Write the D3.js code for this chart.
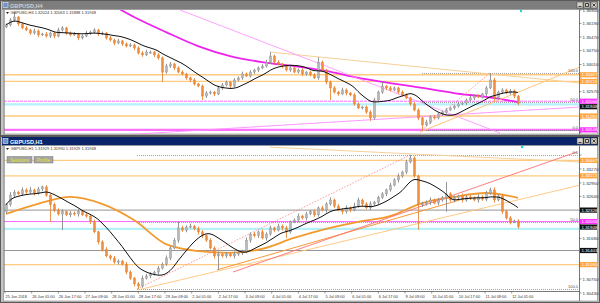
<!DOCTYPE html>
<html>
<head>
<meta charset="utf-8">
<script src="https://cdn.jsdelivr.net/npm/d3@7"></script>
<style>
  body { margin: 0; background: #808080; }
  svg { display: block; }
</style>
</head>
<body>
<div id="wrapper"></div>
<script>
// ---------- H4 window (top) ----------
const h4Open0 = 1.3600;
const h4Closes = [
  1.3611, 1.3637, 1.3653, 1.3616, 1.3595, 1.3584, 1.3568, 1.3579, 1.3558, 1.3563,
  1.3552, 1.3568, 1.3552, 1.3584, 1.3595, 1.3568, 1.3558, 1.3563, 1.3542, 1.3552,
  1.3568, 1.3573, 1.3584, 1.3563, 1.3568, 1.3542, 1.3531, 1.3515, 1.3526, 1.3510,
  1.3499, 1.3505, 1.3489, 1.3462, 1.3452, 1.3467, 1.3467, 1.3452, 1.3436, 1.3361,
  1.3393, 1.3404, 1.3383, 1.3361, 1.3351, 1.3330, 1.3319, 1.3298, 1.3287, 1.3234,
  1.3250, 1.3255, 1.3245, 1.3277, 1.3293, 1.3308, 1.3287, 1.3319, 1.3330, 1.3351,
  1.3340, 1.3361, 1.3372, 1.3383, 1.3393, 1.3414, 1.3446, 1.3414, 1.3404, 1.3393,
  1.3372, 1.3383, 1.3361, 1.3372, 1.3351, 1.3361, 1.3346, 1.3330, 1.3414, 1.3372,
  1.3308, 1.3277, 1.3255, 1.3245, 1.3266, 1.3250, 1.3240, 1.3192, 1.3171, 1.3176,
  1.3149, 1.3118, 1.3213, 1.3255, 1.3287, 1.3277, 1.3266, 1.3277, 1.3255, 1.3240,
  1.3224, 1.3192, 1.3160, 1.3118, 1.3081, 1.3096, 1.3123, 1.3118, 1.3139, 1.3149,
  1.3160, 1.3171, 1.3181, 1.3192, 1.3197, 1.3213, 1.3224, 1.3234, 1.3229, 1.3245,
  1.3277, 1.3319, 1.3224, 1.3255, 1.3266, 1.3250, 1.3261, 1.3234, 1.3195
];
// wick lengths in pips beyond the body
const h4WickUp = [
  8, 10, 26, 6, 8, 10, 6, 12, 8, 6,
  10, 8, 6, 12, 10, 6, 8, 10, 6, 8,
  12, 8, 10, 6, 8, 6, 10, 8, 12, 6,
  8, 10, 6, 8, 10, 12, 8, 6, 10, 8,
  12, 10, 6, 8, 10, 6, 8, 10, 6, 8,
  10, 8, 6, 12, 10, 8, 6, 10, 8, 12,
  8, 10, 6, 8, 10, 12, 21, 8, 10, 6,
  8, 10, 6, 8, 10, 6, 8, 10, 26, 8,
  6, 8, 10, 6, 12, 8, 6, 10, 8, 6,
  8, 10, 12, 8, 21, 6, 10, 8, 6, 10,
  8, 6, 10, 8, 6, 12, 8, 10, 6, 8,
  10, 6, 8, 10, 6, 8, 12, 8, 10, 6,
  10, 37, 12, 8, 10, 6, 10, 8, 6
];
const h4WickDown = [
  6, 8, 10, 12, 8, 6, 10, 8, 12, 6,
  8, 10, 12, 6, 8, 10, 8, 6, 12, 8,
  6, 10, 8, 12, 6, 10, 8, 12, 6, 10,
  8, 6, 12, 8, 10, 6, 8, 12, 10, 53,
  8, 10, 12, 6, 8, 10, 12, 8, 6, 21,
  10, 8, 12, 6, 10, 8, 12, 6, 8, 10,
  6, 8, 10, 12, 6, 8, 10, 8, 6, 12,
  8, 10, 6, 8, 12, 10, 8, 6, 10, 8,
  12, 64, 8, 10, 6, 12, 8, 10, 6, 8,
  10, 16, 8, 6, 10, 12, 8, 6, 10, 8,
  6, 10, 8, 12, 27, 8, 10, 6, 8, 10,
  8, 6, 10, 8, 6, 10, 8, 12, 6, 8,
  10, 6, 20, 8, 10, 6, 8, 12, 10
];
// magenta slow average, read every 8 candles starting at candle 24
const h4SlowMaStart = 24;
const h4SlowMa = [1.3748, 1.3653, 1.3573, 1.3499, 1.3446, 1.3414, 1.3393, 1.3367, 1.3330, 1.3303, 1.3277, 1.3250, 1.3229, 1.3202];
const h4Ticks = [1.36900, 1.36190, 1.35470, 1.34750, 1.34010, 1.33290, 1.32570, 1.31850, 1.31130, 1.30400];
const h4OrangeLevels = [1.33467, 1.33113, 1.31281];
const h4MagentaLevels = [1.32066];
const h4MagentaThick = [1.30548];
const h4GrayLevels = [];
const h4CyanLevels = [1.31900];
const h4Fib = [1.3356, 1.3205, 1.3054];
const h4FibStart = 104;
const h4TanLine = [[66, 1.3467], [143.5, 1.3303]];
const h4PinkFall = [[43.5, 1.3690], [123.5, 1.3038]];
const h4PinkRise = [[29.25, 1.3028], [143.5, 1.3176]];
const h4OrangeLine = [[103.5, 1.3043], [143.5, 1.3388]];
const h4RedLine = [];
const h4FibDiag = [[104, 1.3054], [121, 1.3356]];
const h4Quote = "GBPUSD,H4  1.32024 1.32063 1.31888 1.31948";

// ---------- H1 window (bottom) ----------
const h1Open0 = 1.3230;
const h1Closes = [
  1.3245, 1.3267, 1.3274, 1.3270, 1.3279, 1.3274, 1.3279, 1.3272, 1.3281, 1.3286,
  1.3267, 1.3245, 1.3233, 1.3224, 1.3229, 1.3222, 1.3226, 1.3224, 1.3229, 1.3222,
  1.3219, 1.3206, 1.3183, 1.3160, 1.3142, 1.3128, 1.3123, 1.3114, 1.3116, 1.3109,
  1.3091, 1.3077, 1.3064, 1.3059, 1.3077, 1.3082, 1.3087, 1.3091, 1.3100, 1.3109,
  1.3123, 1.3146, 1.3164, 1.3192, 1.3187, 1.3194, 1.3196, 1.3190, 1.3183, 1.3174,
  1.3164, 1.3146, 1.3128, 1.3132, 1.3128, 1.3132, 1.3128, 1.3132, 1.3135, 1.3137,
  1.3164, 1.3178, 1.3174, 1.3183, 1.3169, 1.3178, 1.3192, 1.3187, 1.3196, 1.3192,
  1.3183, 1.3206, 1.3210, 1.3219, 1.3215, 1.3224, 1.3229, 1.3222, 1.3238, 1.3233,
  1.3247, 1.3256, 1.3242, 1.3233, 1.3229, 1.3238, 1.3233, 1.3242, 1.3256, 1.3247,
  1.3238, 1.3247, 1.3251, 1.3261, 1.3270, 1.3279, 1.3290, 1.3302, 1.3311, 1.3320,
  1.3343, 1.3352, 1.3311, 1.3245, 1.3247, 1.3251, 1.3256, 1.3249, 1.3256, 1.3261,
  1.3270, 1.3256, 1.3261, 1.3265, 1.3256, 1.3263, 1.3261, 1.3256, 1.3263, 1.3258,
  1.3272, 1.3279, 1.3256, 1.3265, 1.3229, 1.3215, 1.3206, 1.3208, 1.3195
];
const h1WickUp = [
  4, 7, 5, 3, 6, 4, 7, 3, 5, 3,
  4, 3, 5, 4, 6, 3, 5, 4, 6, 3,
  4, 3, 5, 3, 4, 6, 3, 5, 4, 3,
  5, 4, 3, 4, 6, 5, 4, 3, 5, 4,
  6, 4, 5, 14, 5, 4, 6, 3, 5, 4,
  3, 5, 4, 6, 3, 5, 4, 6, 3, 5,
  6, 4, 5, 3, 6, 4, 5, 3, 6, 4,
  5, 3, 4, 6, 3, 5, 4, 6, 3, 5,
  4, 6, 3, 5, 4, 6, 3, 8, 5, 3,
  4, 6, 3, 5, 4, 3, 5, 4, 6, 3,
  5, 7, 4, 3, 5, 4, 6, 3, 5, 4,
  27, 4, 5, 3, 6, 4, 5, 3, 6, 4,
  5, 5, 6, 4, 3, 5, 4, 3, 4
];
const h1WickDown = [
  5, 4, 6, 3, 5, 4, 3, 6, 4, 5,
  4, 39, 5, 4, 37, 3, 5, 4, 6, 3,
  4, 5, 3, 6, 4, 3, 5, 4, 6, 3,
  5, 4, 6, 7, 4, 3, 5, 4, 6, 3,
  4, 5, 3, 6, 4, 5, 3, 4, 6, 5,
  4, 3, 6, 32, 4, 5, 3, 6, 4, 5,
  3, 6, 4, 5, 3, 6, 4, 5, 3, 6,
  14, 4, 3, 5, 4, 6, 3, 5, 4, 3,
  6, 4, 5, 3, 6, 4, 5, 3, 4, 6,
  3, 5, 4, 6, 3, 5, 4, 3, 6, 4,
  5, 3, 4, 57, 5, 4, 6, 3, 5, 4,
  32, 4, 5, 3, 6, 4, 5, 3, 6, 4,
  5, 4, 6, 3, 5, 4, 6, 3, 5
];
// orange slow average, read every 8 candles from candle 0
const h1SlowMaStart = 0;
const h1SlowMa = [1.3224, 1.3247, 1.3263, 1.3247, 1.3210, 1.3155, 1.3139, 1.3135, 1.3144, 1.3169, 1.3190, 1.3206, 1.3219, 1.3249, 1.3263, 1.3272, 1.3261];
const h1Ticks = [1.33590, 1.33270, 1.32950, 1.32640, 1.32320, 1.32000, 1.31680, 1.31370, 1.31050, 1.30750, 1.30430];
const h1OrangeLevels = [1.33467, 1.33113, 1.31080];
const h1MagentaLevels = [1.32066];
const h1MagentaThick = [];
const h1GrayLevels = [1.32328, 1.31403];
const h1CyanLevels = [1.31900];
const h1Fib = [1.3052, 1.32055, 1.3359];
const h1FibStart = 32.75;
const h1TanLine = [[66, 1.3377], [143.5, 1.3343]];
const h1PinkFall = [];
const h1PinkRise = [[33, 1.3050], [143.5, 1.3290]];
const h1OrangeLine = [[52.75, 1.3096], [113.5, 1.3256]];
const h1RedLine = [[56.75, 1.3091], [142.75, 1.3366]];
const h1FibDiag = [[32.75, 1.3052], [101, 1.3359]];
const h1Quote = "GBPUSD,H1  1.31929 1.31990 1.31929 1.31948";
const timeLabels = ["25 Jun 2018", "26 Jun 01:00", "26 Jun 17:00", "27 Jun 09:00", "28 Jun 01:00",
  "28 Jun 17:00", "29 Jun 09:00", "2 Jul 01:00", "2 Jul 17:00", "3 Jul 09:00", "4 Jul 01:00",
  "4 Jul 17:00", "5 Jul 09:00", "6 Jul 01:00", "6 Jul 17:00", "9 Jul 09:00", "10 Jul 01:00",
  "10 Jul 17:00", "11 Jul 09:00", "12 Jul 01:00"];
const barsPerLabel = 16;

const fibNames = ["100.0", "50.0", "0.0"];
const bidPrice = 1.31948;

const FONT = "'Liberation Sans', Arial, sans-serif";
const PIP = 0.0001;
const TAG_H = 5.2;
const fmt = d3.format(".5f");

const svg = d3.select("#wrapper").append("svg")
    .attr("width", 600)
    .attr("height", 303);

svg.append("rect").attr("width", 600).attr("height", 303).attr("fill", "#808080");

function drawWindow(top, bottom, title, active) {
  const g = svg.append("g");
  g.append("rect")
      .attr("x", 0.5).attr("y", top + 0.5)
      .attr("width", 599).attr("height", bottom - top - 1)
      .attr("fill", "#c4c4c4").attr("stroke", "#5a5a5a");
  g.append("rect")
      .attr("x", 2).attr("y", top + 1)
      .attr("width", 596).attr("height", 8.5)
      .attr("fill", active ? "#0a246a" : "#7d7d7d");
  g.append("rect")
      .attr("x", 3).attr("y", top + 2.5)
      .attr("width", 5).attr("height", 5)
      .attr("fill", "#6f93cf").attr("stroke", "#e0e8f8").attr("stroke-width", 0.6);
  g.append("text")
      .attr("x", 10).attr("y", top + 7.6)
      .attr("font-family", FONT).attr("font-size", 5.6).attr("font-weight", "bold")
      .attr("fill", active ? "#ffffff" : "#cfcfcf")
      .text(title);
  [577, 584, 591].forEach((bx, k) => {
    g.append("rect")
        .attr("x", bx).attr("y", top + 2)
        .attr("width", 6).attr("height", 6)
        .attr("fill", "#d4d0c8").attr("stroke", "#404040").attr("stroke-width", 0.5);
    const glyph = ["M" + (bx + 1.5) + "," + (top + 6.5) + "h3",
      "M" + (bx + 1.5) + "," + (top + 3.5) + "h3v3h-3z",
      "M" + (bx + 1.5) + "," + (top + 3.5) + "l3,3M" + (bx + 4.5) + "," + (top + 3.5) + "l-3,3"][k];
    g.append("path").attr("d", glyph).attr("fill", "none").attr("stroke", "#000").attr("stroke-width", 0.7);
  });
  g.append("rect")
      .attr("x", 3.5).attr("y", top + 9.5)
      .attr("width", 594).attr("height", bottom - top - 11.5)
      .attr("fill", "#ffffff").attr("stroke", "#808080").attr("stroke-width", 0.6);
}

drawWindow(0, 136, "GBPUSD,H4", false);
drawWindow(136, 303, "GBPUSD,H1", true);

function drawPanel(p) {
  const x = d3.scaleLinear().domain([0, 143.5]).range([6, 580]);
  const y = d3.scaleLinear().domain(p.priceDomain).range([p.bottom, p.top]);
  const clipId = "clip" + p.name;
  svg.append("clipPath").attr("id", clipId)
    .append("rect")
      .attr("x", 4).attr("y", p.frameTop)
      .attr("width", 575).attr("height", p.bottom - p.frameTop);
  const plot = svg.append("g").attr("clip-path", `url(#${clipId})`);

  // horizontal levels
  const levels = [
    ...p.cyan.map(v => ({ v, color: "#b4f1fb", w: 2.2 })),
    ...p.orange.map(v => ({ v, color: "#ffcb80", w: 1.3 })),
    ...p.gray.map(v => ({ v, color: "#7a7a7a", w: 0.8 })),
    ...p.magenta.map(v => ({ v, color: "#ff55ff", w: 0.9, dash: p.name === "h4" ? "3,1" : null })),
    ...p.magentaThick.map(v => ({ v, color: "#ff70ff", w: 2.2 }))
  ];
  plot.selectAll(".level")
      .data(levels)
    .enter().append("line")
      .attr("class", "level")
      .attr("x1", 4).attr("x2", 579)
      .attr("y1", d => y(d.v)).attr("y2", d => y(d.v))
      .attr("stroke", d => d.color)
      .attr("stroke-width", d => d.w)
      .attr("stroke-dasharray", d => d.dash);

  // fibonacci levels
  p.fib.forEach(v => {
    plot.append("line")
        .attr("x1", x(p.fibStart)).attr("x2", 579)
        .attr("y1", Math.round(y(v)) + 0.5).attr("y2", Math.round(y(v)) + 0.5)
        .attr("stroke", "#7a7a7a").attr("stroke-width", 0.7)
        .attr("stroke-dasharray", "1,1");
  });

  // slow moving average
  const slowLine = d3.line()
      .x(d => x(d[0])).y(d => y(d[1]))
      .curve(d3.curveMonotoneX);
  plot.append("path")
      .datum(p.slowMa.map((v, k) => [p.slowStart + k * 8, v]))
      .attr("d", slowLine)
      .attr("fill", "none")
      .attr("stroke", p.slowColor)
      .attr("stroke-width", 1.8);

  // trend lines
  const straight = d3.line().x(d => x(d[0])).y(d => y(d[1]));
  const trends = [
    { pts: p.tan, color: "#f6cf98", w: 1 },
    { pts: p.pinkFall, color: "#ff8cff", w: 0.8 },
    { pts: p.pinkRise, color: p.name === "h4" ? "#ff8cff" : "#ffc47a", w: 0.9 },
    { pts: p.orangeLine, color: p.name === "h4" ? "#ffc47a" : "#f59a3a", w: 1 },
    { pts: p.redLine, color: "#ff6f6f", w: 0.9 },
    { pts: p.fibDiag, color: "#ff7070", w: 0.7, dash: "1.5,1.5" }
  ].filter(t => t.pts.length);
  plot.selectAll(".trend")
      .data(trends)
    .enter().append("path")
      .attr("class", "trend")
      .attr("d", d => straight(d.pts))
      .attr("fill", "none")
      .attr("stroke", d => d.color)
      .attr("stroke-width", d => d.w)
      .attr("stroke-dasharray", d => d.dash || null);

  // candles
  const candles = p.closes.map((c, i) => {
    const o = i ? p.closes[i - 1] : p.open0;
    return {
      i, o, c,
      h: Math.max(o, c) + p.up[i] * PIP,
      l: Math.min(o, c) - p.down[i] * PIP
    };
  });
  const cg = plot.selectAll(".candle")
      .data(candles)
    .enter().append("g")
      .attr("class", "candle");
  cg.append("line")
      .attr("x1", d => Math.round(x(d.i)) + 0.5)
      .attr("x2", d => Math.round(x(d.i)) + 0.5)
      .attr("y1", d => y(d.h))
      .attr("y2", d => y(d.l))
      .attr("stroke", d => d.c >= d.o ? "#8a8a8a" : "#e98a3d")
      .attr("stroke-width", 0.9);
  cg.append("rect")
      .attr("x", d => Math.round(x(d.i)) - 0.5)
      .attr("y", d => y(Math.max(d.o, d.c)))
      .attr("width", 2)
      .attr("height", d => Math.max(1, Math.abs(y(d.o) - y(d.c))))
      .attr("fill", d => d.c >= d.o ? "#b9b9b9" : "#ef8e3c")
      .attr("stroke", d => d.c >= d.o ? "#8a8a8a" : "#dc7a2c")
      .attr("stroke-width", 0.4);

  // fast average of the closes
  const fast = p.closes.map((c, i) => [i, d3.mean(p.closes.slice(Math.max(0, i - 9), i + 1))]);
  plot.append("path")
      .datum(fast)
      .attr("d", d3.line().x(d => x(d[0])).y(d => y(d[1])).curve(d3.curveBasis))
      .attr("fill", "none")
      .attr("stroke", "#111")
      .attr("stroke-width", 1);

  // fib labels
  p.fib.forEach((v, k) => {
    svg.append("text")
        .attr("x", 578).attr("y", y(v) - 1)
        .attr("text-anchor", "end")
        .attr("font-family", FONT).attr("font-size", 4)
        .attr("fill", "#555")
        .text(fibNames[k]);
  });

  // marker at the top
  svg.append("circle")
      .attr("cx", p.markerX).attr("cy", p.frameTop + 1)
      .attr("r", 1.2).attr("fill", "#19d3d3");

  // plot frame
  svg.append("line")
      .attr("x1", 579.5).attr("x2", 579.5)
      .attr("y1", p.frameTop).attr("y2", p.axisBottom)
      .attr("stroke", "#555").attr("stroke-width", 0.8);
  svg.append("line")
      .attr("x1", 4.5).attr("x2", 4.5)
      .attr("y1", p.frameTop).attr("y2", p.bottom)
      .attr("stroke", "#777").attr("stroke-width", 0.6);
  if (p.name === "h1") {
    svg.append("line")
        .attr("x1", 4).attr("x2", 580)
        .attr("y1", 291.5).attr("y2", 291.5)
        .attr("stroke", "#555").attr("stroke-width", 0.8);
  }

  // coloured price tags, spread apart where they touch
  const tags = [
    ...p.orange.map(v => ({ v, bg: "#ffa640" })),
    ...p.gray.map(v => ({ v, bg: "#111" })),
    ...p.magenta.map(v => ({ v, bg: "#ff33ff" })),
    ...p.magentaThick.map(v => ({ v, bg: "#ff33ff" })),
    { v: bidPrice, bg: "#111" }
  ].map(t => ({ ...t, ty: y(t.v) }))
   .sort((a, b) => a.ty - b.ty);
  tags.forEach((t, k) => {
    if (k && t.ty - tags[k - 1].ty < TAG_H + 0.3) t.ty = tags[k - 1].ty + TAG_H + 0.3;
  });

  // price axis ticks, hidden where a tag covers them
  const axis = svg.append("g");
  p.ticks.forEach(t => {
    const ty = y(t);
    axis.append("line")
        .attr("x1", 579).attr("x2", 581.5)
        .attr("y1", ty).attr("y2", ty)
        .attr("stroke", "#555").attr("stroke-width", 0.6);
    if (tags.some(g => Math.abs(g.ty - ty) < TAG_H + 0.2)) return;
    axis.append("text")
        .attr("x", 582.5).attr("y", ty + 1.6)
        .attr("font-family", FONT).attr("font-size", 4.4)
        .attr("fill", "#333")
        .text(fmt(t));
  });

  tags.forEach(t => {
    axis.append("rect")
        .attr("x", 580).attr("y", t.ty - TAG_H / 2)
        .attr("width", 17).attr("height", TAG_H)
        .attr("fill", t.bg);
    axis.append("text")
        .attr("x", 581.5).attr("y", t.ty + 1.6)
        .attr("font-family", FONT).attr("font-size", 4.4)
        .attr("fill", "#fff")
        .text(fmt(t.v));
  });

  // quote line
  svg.append("path")
      .attr("d", `M6,${p.frameTop + 2}h3l-1.5,2z`)
      .attr("fill", "#222");
  svg.append("text")
      .attr("x", 10.5).attr("y", p.frameTop + 4.2)
      .attr("font-family", FONT).attr("font-size", 4)
      .attr("fill", "#333")
      .text(p.quote);
}

drawPanel({
  name: "h4", top: 10, bottom: 134, frameTop: 10, axisBottom: 134.5,
  priceDomain: [1.30328, 1.36900],
  open0: h4Open0, closes: h4Closes, up: h4WickUp, down: h4WickDown,
  slowMa: h4SlowMa, slowStart: h4SlowMaStart, slowColor: "#ee22ee",
  ticks: h4Ticks, orange: h4OrangeLevels, magenta: h4MagentaLevels,
  magentaThick: h4MagentaThick, gray: h4GrayLevels, cyan: h4CyanLevels,
  fib: h4Fib, fibStart: h4FibStart,
  tan: h4TanLine, pinkFall: h4PinkFall, pinkRise: h4PinkRise,
  orangeLine: h4OrangeLine, redLine: h4RedLine, fibDiag: h4FibDiag,
  quote: h4Quote, markerX: 521
});

drawPanel({
  name: "h1", top: 147, bottom: 291, frameTop: 146, axisBottom: 301,
  priceDomain: [1.30476, 1.33773],
  open0: h1Open0, closes: h1Closes, up: h1WickUp, down: h1WickDown,
  slowMa: h1SlowMa, slowStart: h1SlowMaStart, slowColor: "#f39a2e",
  ticks: h1Ticks, orange: h1OrangeLevels, magenta: h1MagentaLevels,
  magentaThick: h1MagentaThick, gray: h1GrayLevels, cyan: h1CyanLevels,
  fib: h1Fib, fibStart: h1FibStart,
  tan: h1TanLine, pinkFall: h1PinkFall, pinkRise: h1PinkRise,
  orangeLine: h1OrangeLine, redLine: h1RedLine, fibDiag: h1FibDiag,
  quote: h1Quote, markerX: 522
});

// Sessions / Profile buttons
[["Sessions", 7, 25], ["Profile", 34, 19]].forEach(([label, bx, bw]) => {
  svg.append("rect")
      .attr("x", bx).attr("y", 156.5)
      .attr("width", bw).attr("height", 6.5)
      .attr("fill", "#a4a4a4").attr("stroke", "#7a7a7a").attr("stroke-width", 0.5);
  svg.append("text")
      .attr("x", bx + bw / 2).attr("y", 161.6)
      .attr("text-anchor", "middle")
      .attr("font-family", FONT).attr("font-size", 4.6)
      .attr("fill", "#e6e62a")
      .text(label);
});

// time axis of the H1 window
const xBar = d3.scaleLinear()
    .domain([0, (timeLabels.length - 1) * barsPerLabel])
    .range([5, 511.7]);
const timeAxis = svg.append("g");
timeLabels.forEach((label, k) => {
  const tx = xBar(k * barsPerLabel);
  timeAxis.append("line")
      .attr("x1", tx).attr("x2", tx)
      .attr("y1", 291.5).attr("y2", 293.5)
      .attr("stroke", "#555").attr("stroke-width", 0.6);
  timeAxis.append("text")
      .attr("x", tx + 0.5).attr("y", 298)
      .attr("font-family", FONT).attr("font-size", 3.9)
      .attr("fill", "#333")
      .text(label);
});
</script>
</body>
</html>
